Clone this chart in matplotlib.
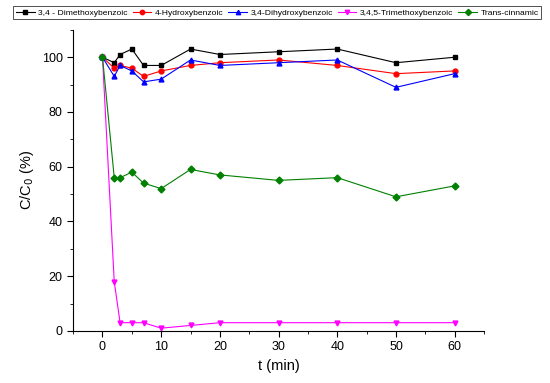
import numpy as np
import matplotlib.pyplot as plt
from matplotlib.ticker import MultipleLocator

plt.rcParams['font.family'] = ['Liberation Sans', 'DejaVu Sans']

t = [0, 2, 3, 5, 7, 10, 15, 20, 30, 40, 50, 60]
dimethoxy = [100, 98, 101, 103, 97, 97, 103, 101, 102, 103, 98, 100]
hydroxy = [100, 96, 97, 96, 93, 95, 97, 98, 99, 97, 94, 95]
dihydroxy = [100, 93, 97, 95, 91, 92, 99, 97, 98, 99, 89, 94]
trimethoxy = [100, 18, 3, 3, 3, 1, 2, 3, 3, 3, 3, 3]
cinnamic = [100, 56, 56, 58, 54, 52, 59, 57, 55, 56, 49, 53]

series = [
    ("3,4 - Dimethoxybenzoic", dimethoxy, "black", "s"),
    ("4-Hydroxybenzoic", hydroxy, "red", "o"),
    ("3,4-Dihydroxybenzoic", dihydroxy, "blue", "^"),
    ("3,4,5-Trimethoxybenzoic", trimethoxy, "magenta", "v"),
    ("Trans-cinnamic", cinnamic, "green", "D"),
]

fig = plt.figure(figsize=(5.5, 3.83), dpi=100)
ax = fig.add_axes([0.133, 0.136, 0.747, 0.786])

for name, vals, col, mk in series:
    ax.plot(t, vals, color=col, marker=mk, markersize=3.5, linewidth=0.8, label=name)

ax.set_xlim(-5, 65)
ax.set_ylim(0, 110)
ax.xaxis.set_major_locator(MultipleLocator(10))
ax.xaxis.set_minor_locator(MultipleLocator(5))
ax.yaxis.set_major_locator(MultipleLocator(20))
ax.yaxis.set_minor_locator(MultipleLocator(10))
ax.spines['top'].set_visible(False)
ax.spines['right'].set_visible(False)
ax.tick_params(which='major', length=4, labelsize=9)
ax.tick_params(which='minor', length=2.5)
ax.set_yticks([0, 20, 40, 60, 80, 100])

ax.set_xlabel("t (min)", fontsize=10.5)
ax.set_ylabel("C/C$_0$ (%)", fontsize=10.5)

leg = fig.legend(loc='upper center', bbox_to_anchor=(0.504, 0.995), ncol=5,
                 fontsize=6.1, frameon=True, fancybox=False, edgecolor='black',
                 handlelength=2.2, handletextpad=0.4, columnspacing=0.6,
                 borderpad=0.3, markerscale=0.9)
leg.get_frame().set_linewidth(0.6)

fig.savefig("out.png", dpi=100)
